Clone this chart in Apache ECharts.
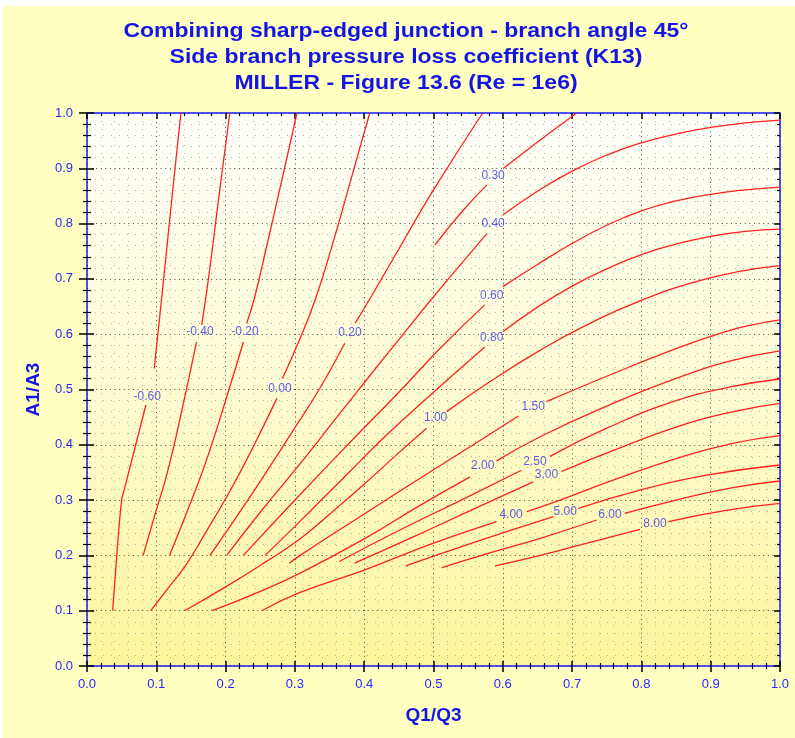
<!DOCTYPE html>
<html>
<head>
<meta charset="utf-8">
<script src="https://cdn.jsdelivr.net/npm/echarts@6/dist/echarts.min.js"></script>
<style>
html, body { margin: 0; padding: 0; background: #fff; }
#container { width: 795px; height: 738px; }
</style>
</head>
<body>
<div id="container"></div>
<script>
// contour levels (K13) and where each label sits on its curve
var levels = ['-0.60', '-0.40', '-0.20', '0.00', '0.20', '0.30', '0.40', '0.60', '0.80',
              '1.00', '1.50', '2.00', '2.50', '3.00', '4.00', '5.00', '6.00', '8.00'];
var labelPos = [[0.087, 0.487], [0.163, 0.605], [0.228, 0.605], [0.2785, 0.502], [0.3795, 0.602],
                [0.586, 0.886], [0.586, 0.799], [0.584, 0.669], [0.584, 0.593], [0.503, 0.449],
                [0.644, 0.469], [0.571, 0.362], [0.6465, 0.3695], [0.663, 0.346], [0.612, 0.273],
                [0.69, 0.279], [0.7547, 0.273], [0.8196, 0.258]];
var tickLabels = ['0.0', '0.1', '0.2', '0.3', '0.4', '0.5', '0.6', '0.7', '0.8', '0.9', '1.0'];

// curve points [Q1/Q3, A1/A3], null = gap under the label
var kM060 = [[0.037, 0.10], [0.043, 0.20], [0.050, 0.30], [0.054, 0.32], [0.0695, 0.396], [0.085, 0.472],
             null, [0.097, 0.538], [0.109, 0.68], [0.122, 0.84], [0.1355, 1.0]];
var kM040 = [[0.081, 0.2], [0.0995, 0.28], [0.116, 0.35], [0.1365, 0.46], [0.158, 0.586],
             null, [0.1655, 0.617], [0.175, 0.698], [0.1905, 0.85], [0.206, 1.0]];
var kM020 = [[0.119, 0.2], [0.151, 0.3], [0.1745, 0.38], [0.2, 0.48], [0.2256, 0.586],
             null, [0.2305, 0.62], [0.2415, 0.665], [0.2585, 0.755], [0.2805, 0.875], [0.303, 1.0]];
var k000 = [[0.092, 0.1], [0.1165, 0.14], [0.1414, 0.18], [0.172, 0.243], [0.2016, 0.306], [0.225, 0.36], [0.252, 0.427], [0.274, 0.484],
            null, [0.282, 0.52], [0.306, 0.588], [0.33, 0.665], [0.356, 0.77], [0.382, 0.885], [0.408, 1.0]];
var k020 = [[0.1775, 0.2], [0.24, 0.315], [0.298, 0.427], [0.335, 0.50], [0.372, 0.5835],
            null, [0.387, 0.62], [0.411, 0.67], [0.455, 0.765], [0.50, 0.861], [0.571, 1.0]];
var k030 = [[0.502, 0.761], [0.54, 0.82], [0.577, 0.870],
            null, [0.601, 0.90], [0.654, 0.951], [0.7066, 1.0]];
var k040 = [[0.2016, 0.2], [0.25, 0.278], [0.3076, 0.366], [0.36, 0.449], [0.41, 0.528], [0.455, 0.598], [0.495, 0.66], [0.535, 0.72], [0.577, 0.782],
            null, [0.60, 0.8155], [0.65, 0.8585], [0.70, 0.895], [0.75, 0.924], [0.80, 0.946], [0.85, 0.962], [0.90, 0.974], [0.95, 0.982], [1.0, 0.987]];
var k060 = [[0.2256, 0.2], [0.3076, 0.31], [0.38, 0.405], [0.45, 0.495], [0.51, 0.575], [0.574, 0.653],
            null, [0.60, 0.686], [0.65, 0.726], [0.70, 0.764], [0.75, 0.797], [0.80, 0.823], [0.85, 0.841], [0.90, 0.853], [0.95, 0.861], [1.0, 0.866]];
var k080 = [[0.257, 0.2], [0.3076, 0.262], [0.37, 0.34], [0.43, 0.415], [0.50, 0.495], [0.574, 0.577],
            null, [0.60, 0.6045], [0.65, 0.649], [0.70, 0.687], [0.75, 0.718], [0.80, 0.744], [0.85, 0.763], [0.90, 0.777], [0.95, 0.786], [1.0, 0.79]];
var k100 = [[0.141, 0.1], [0.2, 0.143], [0.255, 0.186], [0.3076, 0.23], [0.355, 0.28], [0.401, 0.33], [0.445, 0.38], [0.49, 0.43],
            null, [0.519, 0.46], [0.58, 0.513], [0.65, 0.568], [0.72, 0.616], [0.80, 0.661], [0.87, 0.692], [0.94, 0.713], [1.0, 0.724]];
var k150 = [[0.292, 0.186], [0.3076, 0.2], [0.40, 0.275], [0.50, 0.355], [0.57, 0.41], [0.6225, 0.452],
            null, [0.663, 0.478], [0.75, 0.524], [0.85, 0.574], [0.92, 0.604], [0.96, 0.617], [1.0, 0.626]];
var k200 = [[0.181, 0.1], [0.25, 0.135], [0.3076, 0.168], [0.40, 0.23], [0.48, 0.29], [0.5527, 0.342],
            null, [0.591, 0.371], [0.654, 0.4146], [0.75, 0.47], [0.85, 0.52], [0.93, 0.552], [1.0, 0.570]];
var k250 = [[0.364, 0.189], [0.45, 0.245], [0.54, 0.30], [0.627, 0.354],
            null, [0.668, 0.379], [0.75, 0.43], [0.85, 0.48], [0.93, 0.505], [1.0, 0.519]];
var k300 = [[0.386, 0.186], [0.47, 0.233], [0.56, 0.285], [0.644, 0.333],
            null, [0.685, 0.352], [0.77, 0.395], [0.87, 0.44], [0.94, 0.462], [1.0, 0.475]];
var k400 = [[0.252, 0.1], [0.3076, 0.133], [0.401, 0.174], [0.50, 0.222], [0.591, 0.261],
            null, [0.6345, 0.279], [0.6825, 0.30], [0.759, 0.336], [0.85, 0.375], [0.93, 0.402], [1.0, 0.4165]];
var k500 = [[0.46, 0.181], [0.55, 0.22], [0.673, 0.27],
            null, [0.709, 0.285], [0.798, 0.318], [0.894, 0.345], [1.0, 0.3635]];
var k600 = [[0.512, 0.178], [0.58, 0.204], [0.654, 0.231], [0.7355, 0.264],
            null, [0.776, 0.276], [0.85, 0.30], [0.93, 0.322], [1.0, 0.3345]];
var k800 = [[0.589, 0.181], [0.654, 0.2], [0.73, 0.225], [0.798, 0.247],
            null, [0.839, 0.261], [0.92, 0.281], [1.0, 0.294]];

var curves = [kM060, kM040, kM020, k000, k020, k030, k040, k060, k080,
              k100, k150, k200, k250, k300, k400, k500, k600, k800];

var container = document.getElementById('container');
var charts = echarts.init(container);

var BLUE = '#2828ff';
var AXIS_BLUE = '#1a1aff';
var TITLE_BLUE = '#1414e6';
var FONT = 'Liberation Sans, Arial, sans-serif';

function fmtTick(v) {
    return tickLabels[Math.round(v * 10)];
}

/*
 * split one curve at its null markers
 */
function splitCurve(pts) {
    var parts = [[]];
    pts.forEach(function (p) {
        if (p === null) parts.push([]);
        else parts[parts.length - 1].push(p);
    });
    return parts;
}

var series = [];
curves.forEach(function (pts, i) {
    splitCurve(pts).forEach(function (part) {
        series.push({
            type: 'line', name: levels[i], data: part,
            xAxisIndex: 0, yAxisIndex: 0,
            showSymbol: false, smooth: 0.5, silent: true,
            lineStyle: { color: '#ff2020', width: 1.3 }
        });
    });
});
series.push({
    type: 'scatter', xAxisIndex: 0, yAxisIndex: 0,
    symbolSize: 0, silent: true,
    data: levels.map(function (t, i) { return { name: t, value: labelPos[i] }; }),
    label: {
        show: true, position: 'inside', formatter: '{b}',
        color: '#3434f0', fontSize: 12, fontFamily: FONT
    }
});

function valueAxis(extra) {
    var base = {
        type: 'value', min: 0, max: 1, interval: 0.1,
        axisLine: { show: false, onZero: false },
        axisTick: { show: true, inside: true, length: 6, lineStyle: { color: '#000', width: 1.5 } },
        minorTick: { show: true, splitNumber: 5, length: 3, lineStyle: { color: '#000', width: 1.2 } },
        axisLabel: { show: false },
        splitLine: { show: false },
        minorSplitLine: { show: false }
    };
    for (var k in extra) base[k] = extra[k];
    return base;
}

function titleLine(text, y) {
    return {
        type: 'text', x: 406, y: y, scaleX: 1.15, silent: true,
        style: { text: text, fill: TITLE_BLUE, font: 'bold 20px ' + FONT,
                 textAlign: 'center', textVerticalAlign: 'middle' }
    };
}

var plotBg = new echarts.graphic.LinearGradient(0, 0, 0, 1, [
    { offset: 0, color: '#fffffa' },
    { offset: 0.5, color: '#fffcd2' },
    { offset: 1, color: '#fbf59c' }
]);

var option = {
    backgroundColor: '#ffffc2',
    animation: false,
    textStyle: { fontFamily: FONT },
    graphic: [
        { type: 'rect', z: -5, shape: { x: 0, y: 0, width: 795, height: 6 }, style: { fill: '#ffffff' }, silent: true },
        { type: 'rect', z: -5, shape: { x: 0, y: 0, width: 3, height: 738 }, style: { fill: '#ffffff' }, silent: true },
        titleLine('Combining sharp-edged junction - branch angle 45\u00b0', 31),
        titleLine('Side branch pressure loss coefficient (K13)', 57),
        titleLine('MILLER - Figure 13.6 (Re = 1e6)', 83)
    ],
    grid: [
        { left: 87, right: 15, top: 113, bottom: 72, show: true, backgroundColor: plotBg, borderWidth: 0 },
        { left: 87, right: 15, top: 113, bottom: 72, show: false }
    ],
    xAxis: [
        valueAxis({
            gridIndex: 0, position: 'bottom',
            axisLine: { show: true, onZero: false, lineStyle: { color: AXIS_BLUE, width: 1.5 } },
            axisTick: { show: true, inside: false, length: 6, lineStyle: { color: '#000', width: 1.5 } },
            minorTick: { show: true, splitNumber: 5, length: 3, lineStyle: { color: '#000', width: 1.2 } },
            axisLabel: { show: true, color: BLUE, fontSize: 13, margin: 12, formatter: fmtTick },
            splitLine: { show: true, lineStyle: { color: '#4a4a4a', type: [1, 3.6], width: 1 } },
            minorSplitLine: { show: true, lineStyle: { color: '#b4b4a0', type: [1, 7], width: 1 } },
            name: 'Q1/Q3', nameLocation: 'middle', nameGap: 40,
            nameTextStyle: { color: TITLE_BLUE, fontSize: 19, fontWeight: 'bold' }
        }),
        valueAxis({
            gridIndex: 0, position: 'top',
            axisLine: { show: true, onZero: false, lineStyle: { color: AXIS_BLUE, width: 1.5 } }
        }),
        valueAxis({ gridIndex: 1, position: 'bottom', axisTick: { show: true, inside: true, length: 5, lineStyle: { color: '#000', width: 1.5 } } })
    ],
    yAxis: [
        valueAxis({
            gridIndex: 0, position: 'left',
            axisLine: { show: true, onZero: false, lineStyle: { color: AXIS_BLUE, width: 1.5 } },
            axisTick: { show: true, inside: false, length: 8, lineStyle: { color: '#000', width: 1.5 } },
            minorTick: { show: true, splitNumber: 5, length: 4, lineStyle: { color: '#000', width: 1.2 } },
            axisLabel: { show: true, color: BLUE, fontSize: 13, margin: 14, formatter: fmtTick },
            splitLine: { show: true, lineStyle: { color: '#4a4a4a', type: [1, 3.6], width: 1 } },
            minorSplitLine: { show: true, lineStyle: { color: '#b4b4a0', type: [1, 7], width: 1 } },
            name: 'A1/A3', nameLocation: 'middle', nameGap: 44,
            nameTextStyle: { color: TITLE_BLUE, fontSize: 19, fontWeight: 'bold' }
        }),
        valueAxis({
            gridIndex: 0, position: 'right',
            axisLine: { show: true, onZero: false, lineStyle: { color: AXIS_BLUE, width: 1.5 } }
        }),
        valueAxis({ gridIndex: 1, position: 'left', axisTick: { show: true, inside: true, length: 7, lineStyle: { color: '#000', width: 1.5 } },
                    minorTick: { show: true, splitNumber: 5, length: 4, lineStyle: { color: '#000', width: 1.2 } } })
    ],
    series: series
};

charts.setOption(option, true);
</script>
</body>
</html>
